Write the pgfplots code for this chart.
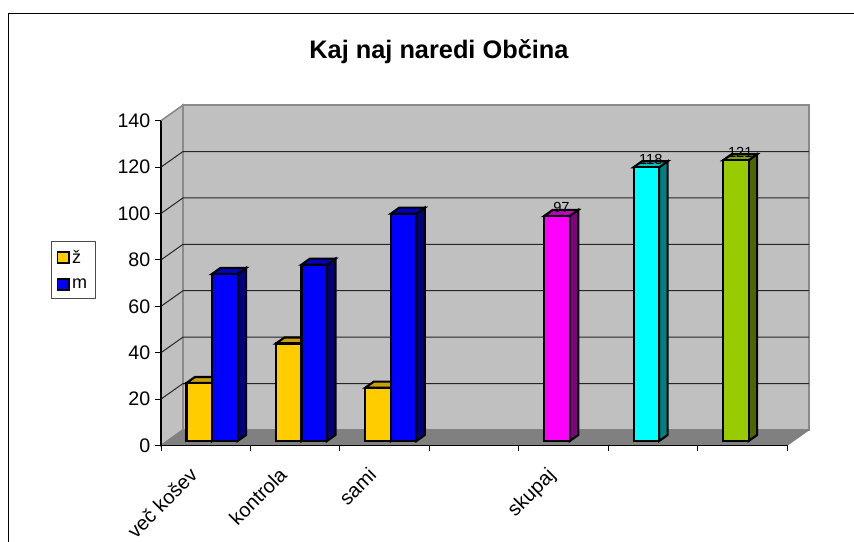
\documentclass[border=0pt]{standalone}
\usepackage{fontspec}
\setmainfont{Liberation Sans}
\usepackage{pgfplots}
\pgfplotsset{compat=1.18}
\definecolor{wall}{HTML}{C0C0C0}
\definecolor{floorc}{HTML}{808080}
\definecolor{edgec}{HTML}{8A8A8A}
\definecolor{yel}{HTML}{FFCC00}\definecolor{yelT}{HTML}{C9A000}\definecolor{yelS}{HTML}{806600}
\definecolor{blu}{HTML}{0000FF}\definecolor{bluT}{HTML}{0000C0}\definecolor{bluS}{HTML}{000080}
\definecolor{mag}{HTML}{FF00FF}\definecolor{magT}{HTML}{C000C0}\definecolor{magS}{HTML}{800080}
\definecolor{cya}{HTML}{00FFFF}\definecolor{cyaT}{HTML}{00C0C0}\definecolor{cyaS}{HTML}{008080}
\definecolor{gre}{HTML}{99CC00}\definecolor{greT}{HTML}{7AA300}\definecolor{greS}{HTML}{4D6600}
\tikzset{bline/.style={black,line width=1.6pt,line join=miter}}
% xL xL+d xR xR+d value value+h topcolour sidecolour
\newcommand{\depthfaces}[8]{%
  \addplot[bline,fill=#8,forget plot] coordinates {(#3,0)(#4,2.6)(#4,#6)(#3,#5)} --cycle;
  \addplot[bline,fill=#7,forget plot] coordinates {(#1,#5)(#2,#6)(#4,#6)(#3,#5)} --cycle;
}
\pgfplotsset{
  valuelabel/.style={nodes near coords,
    every node near coord/.append style={font=\fontsize{11pt}{13pt}\selectfont,text=black,inner sep=0pt,anchor=center,xshift=-1.5pt,yshift=6.2pt,line width=0pt,draw=none}},
  lg/.style={legend image code/.code={\draw[black,line width=1.4pt,fill=#1] (0pt,-4pt) rectangle (8.4pt,4pt);}}
}
\begin{document}
\begin{tikzpicture}
\useasboundingbox (0,0) rectangle (640.5pt,406.5pt);
\clip (0,0) rectangle (640.5pt,406.5pt);
\fill[white] (0,0) rectangle (640.5pt,406.5pt);
\draw[black,line width=1pt] (6.4pt,-2pt) -- (6.4pt,396.4pt) -- (645pt,396.4pt);
\node[font=\bfseries\fontsize{19pt}{22pt}\selectfont,anchor=center] at (329.2pt,368pt) {Kaj naj naredi Občina};

% walls, floor, grid: front plane of the chart box
\begin{axis}[
  at={(120.75pt,72.375pt)},anchor=south west,
  scale only axis,width=469.5pt,height=243.6pt,
  xmin=-0.5,xmax=6.5,ymin=0,ymax=140,clip=false,axis on top,
  axis x line*=bottom,axis y line*=left,
  axis line style={black,line width=0.9pt},
  tick style={black,line width=0.7pt},tick align=outside,major tick length=4.5pt,
  ytick={0,20,...,140},
  xtick={-0.5,0.5,1.5,2.5,3.5,4.5,5.5,6.5},xticklabels={},
  extra x ticks={0,1,2,4},
  extra x tick labels={več košev,kontrola,sami,skupaj},
  extra x tick style={major tick length=0pt,
    xticklabel style={xshift=-13pt,yshift=-10.5pt,rotate=45,anchor=north east,font=\fontsize{15pt}{17pt}\selectfont}},
  yticklabel style={font=\fontsize{14.7pt}{17pt}\selectfont},
  /pgf/number format/assume math mode=true,
]
\addplot[draw=edgec,line width=1.2pt,fill=wall] coordinates {(-0.254,6.72)(6.746,6.72)(6.746,146.72)(-0.254,146.72)} --cycle;
\addplot[draw=edgec,line width=1.2pt,fill=wall] coordinates {(-0.5,0)(-0.254,6.72)(-0.254,146.72)(-0.5,140)} --cycle;
\addplot[draw=floorc,line width=0.7pt,fill=floorc] coordinates {(-0.5,0)(6.5,0)(6.746,6.72)(-0.254,6.72)} --cycle;
\pgfplotsinvokeforeach{20,40,60,80,100,120}{
  \pgfmathsetmacro{\lv}{#1+6.72}
  \addplot[black!85,line width=0.75pt] coordinates {(-0.5,#1)(-0.254,\lv)(6.746,\lv)};
}
\end{axis}

% bars: same scale, on the plane in front of the back wall
\begin{axis}[
  at={(120.75pt,75.75pt)},anchor=south west,
  scale only axis,width=469.5pt,height=243.6pt,
  xmin=-0.5,xmax=6.5,ymin=0,ymax=140,clip=false,
  hide axis,
  /pgf/number format/assume math mode=true,
  legend style={at={(-0.1762,0.6158)},anchor=north west,draw=black!70,line width=0.7pt,
    font=\fontsize{13.5pt}{15pt}\selectfont,inner xsep=4pt,inner ysep=4.5pt,row sep=6pt,
    /tikz/every even column/.append style={column sep=1pt}},
  legend cell align=left,
]
\depthfaces{-0.21475}{-0.11975}{0.07075}{0.16575}{25}{27.6}{yelT}{yelS}
\depthfaces{0.78525}{0.88025}{1.07075}{1.16575}{42}{44.6}{yelT}{yelS}
\depthfaces{1.78525}{1.88025}{2.07075}{2.16575}{23}{25.6}{yelT}{yelS}
\addplot[ybar,bar width=0.2855,bar shift=-0.072,draw=black,line width=1.6pt,fill=yel,lg=yel] coordinates {(0,25)(1,42)(2,23)};
\addlegendentry{ž}
\depthfaces{0.07075}{0.16575}{0.35625}{0.45125}{72}{74.6}{bluT}{bluS}
\depthfaces{1.07075}{1.16575}{1.35625}{1.45125}{76}{78.6}{bluT}{bluS}
\depthfaces{2.07075}{2.16575}{2.35625}{2.45125}{98}{100.6}{bluT}{bluS}
\addplot[ybar,bar width=0.2855,bar shift=0.2135,draw=black,line width=1.6pt,fill=blu,lg=blu] coordinates {(0,72)(1,76)(2,98)};
\addlegendentry{m\hspace{9pt}}
\depthfaces{3.78525}{3.88025}{4.07075}{4.16575}{97}{99.6}{magT}{magS}
\addplot[ybar,bar width=0.2855,bar shift=-0.072,draw=black,line width=1.6pt,fill=mag,forget plot,valuelabel] coordinates {(4,97)};
\depthfaces{4.78525}{4.88025}{5.07075}{5.16575}{118}{120.6}{cyaT}{cyaS}
\addplot[ybar,bar width=0.2855,bar shift=-0.072,draw=black,line width=1.6pt,fill=cya,forget plot,valuelabel] coordinates {(5,118)};
\depthfaces{5.78525}{5.88025}{6.07075}{6.16575}{121}{123.6}{greT}{greS}
\addplot[ybar,bar width=0.2855,bar shift=-0.072,draw=black,line width=1.6pt,fill=gre,forget plot,valuelabel] coordinates {(6,121)};
\end{axis}
\end{tikzpicture}
\end{document}
